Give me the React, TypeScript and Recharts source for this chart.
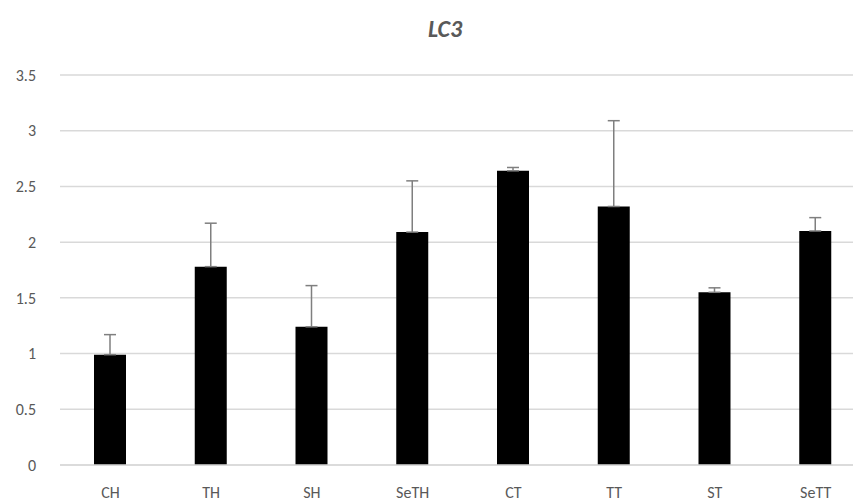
import React from "react";
import { BarChart, Bar, XAxis, YAxis, CartesianGrid, ErrorBar } from "recharts";

const categories = ["CH", "TH", "SH", "SeTH", "CT", "TT", "ST", "SeTT"];
const means = [0.99, 1.78, 1.24, 2.09, 2.64, 2.32, 1.55, 2.1];
const errors = [0.18, 0.39, 0.37, 0.46, 0.03, 0.77, 0.04, 0.12];
const yTicks = [0, 0.5, 1, 1.5, 2, 2.5, 3, 3.5];

const data = categories.map((c, i) => ({ name: c, value: means[i], err: [0, errors[i]] }));

const FONT = "Carlito, 'Liberation Sans Narrow', 'DejaVu Sans Condensed', sans-serif";

export default function App() {
  return (
    <div style={{ position: "absolute", left: 0, top: 0, width: 853, height: 503, overflow: "hidden", background: "#fff" }}>
      <div
        style={{
          position: "absolute",
          left: 0,
          width: 890,
          top: 14,
          textAlign: "center",
          fontFamily: FONT,
          fontStyle: "italic",
          fontWeight: "bold",
          fontSize: 24,
          color: "#595959",
        }}
      >
        LC3
      </div>
      <BarChart
        width={880}
        height={503}
        data={data}
        margin={{ top: 75, right: 14, bottom: 8, left: 0 }}
        barSize={32}
      >
        <CartesianGrid vertical={false} stroke="#d9d9d9" strokeWidth={1.5} />
        <XAxis
          dataKey="name"
          axisLine={{ stroke: "#d9d9d9", strokeWidth: 1.5 }}
          tickLine={false}
          height={30}
          tickMargin={16}
          tick={{ fill: "#595959", fontSize: 16, fontFamily: FONT }}
        />
        <YAxis
          domain={[0, 3.5]}
          ticks={yTicks}
          axisLine={false}
          tickLine={false}
          width={60}
          tickMargin={18}
          tick={{ fill: "#595959", fontSize: 16, fontFamily: FONT }}
        />
        <Bar dataKey="value" fill="#000" isAnimationActive={false}>
          <ErrorBar dataKey="err" width={6} stroke="#7f7f7f" strokeWidth={1.5} direction="y" />
        </Bar>
      </BarChart>
    </div>
  );
}
